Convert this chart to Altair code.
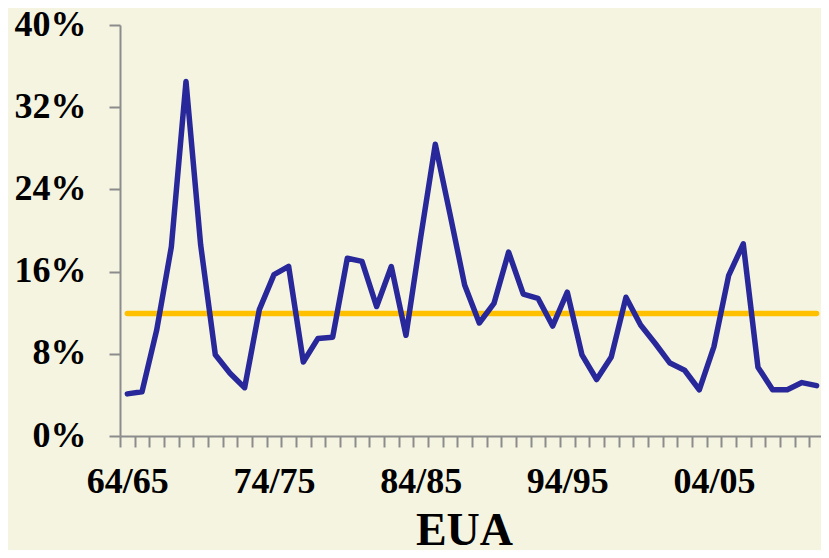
import json
import altair as alt
import pandas as pd

seasons = [
    "64/65", "65/66", "66/67", "67/68", "68/69", "69/70", "70/71", "71/72", "72/73", "73/74",
    "74/75", "75/76", "76/77", "77/78", "78/79", "79/80", "80/81", "81/82", "82/83", "83/84",
    "84/85", "85/86", "86/87", "87/88", "88/89", "89/90", "90/91", "91/92", "92/93", "93/94",
    "94/95", "95/96", "96/97", "97/98", "98/99", "99/00", "00/01", "01/02", "02/03", "03/04",
    "04/05", "05/06", "06/07", "07/08", "08/09", "09/10", "10/11", "11/12",
]
values = [
    4.1, 4.3, 10.3, 18.4, 34.5, 18.6, 7.9, 6.1, 4.7, 12.3,
    15.7, 16.5, 7.2, 9.5, 9.6, 17.3, 17.0, 12.6, 16.5, 9.8,
    19.3, 28.4, 21.6, 14.7, 11.0, 12.9, 17.9, 13.8, 13.4, 10.7,
    14.0, 7.9, 5.5, 7.7, 13.5, 10.8, 9.0, 7.1, 6.4, 4.5,
    8.7, 15.6, 18.7, 6.7, 4.5, 4.5, 5.2, 4.9,
]
y_ticks = [0, 8, 16, 24, 32, 40]
label_every = 10

df = pd.DataFrame({"i": list(range(len(seasons))), "season": seasons, "value": values})

n = len(seasons)
x_max = n - 0.7
boundaries = [k - 0.5 for k in range(n + 1) if k - 0.5 <= x_max]
label_positions = [k for k in range(0, n, label_every)]

FONT = "Liberation Serif"
GRAY = "#8c8c8c"

x_scale = alt.Scale(domain=[-0.5, x_max], nice=False, zero=False)
y_scale = alt.Scale(domain=[0, 40], nice=False)
y_axis = alt.Axis(
    values=y_ticks, labelExpr="datum.value + '%'", title=None, grid=False,
    tickSize=11, tickWidth=2, tickColor=GRAY, domainColor=GRAY, domainWidth=2,
    labelFont=FONT, labelFontSize=36, labelFontWeight="bold", labelColor="black",
    labelPadding=23, labelOffset=-1,
)

line = alt.Chart(df).mark_line(color="#28289A", strokeWidth=5.5, strokeJoin="round", strokeCap="round").encode(
    x=alt.X("i:Q", scale=x_scale, axis=alt.Axis(
        orient="bottom", values=boundaries, labels=False, title=None, grid=False,
        tickSize=11, tickWidth=2, tickColor=GRAY, domainColor=GRAY, domainWidth=2,
    )),
    y=alt.Y("value:Q", scale=y_scale, axis=y_axis),
)

label_expr = json.dumps(seasons) + "[datum.value]"
mean_rule = alt.Chart(df).mark_rule(color="#FFC000", strokeWidth=5.5, strokeCap="round").encode(
    x=alt.X("min(i):Q", scale=x_scale, axis=alt.Axis(
        orient="bottom", values=label_positions, labelExpr=label_expr, ticks=False, tickSize=0,
        domain=False, grid=False,
        labelFont=FONT, labelFontSize=36, labelFontWeight="bold", labelColor="black",
        labelPadding=28, title="EUA", titleFont=FONT, titleFontSize=46, titleFontWeight="bold",
        titleColor="black", titleBaseline="alphabetic", titleX=344, titleY=108, titleAnchor="middle",
    )),
    x2="max(i):Q",
    y=alt.Y("mean(value):Q", scale=y_scale, axis=y_axis),
)

chart = alt.layer(mean_rule, line).resolve_axis(x="independent").properties(
    width=701, height=411,
    autosize=alt.AutoSizeParams(type="none"),
    padding={"left": 112, "top": 17, "right": 0, "bottom": 114},
    background="#F5F4E1",
).configure_view(stroke=None)

chart.save("out.html", embed_options={"renderer": "svg", "actions": False})
